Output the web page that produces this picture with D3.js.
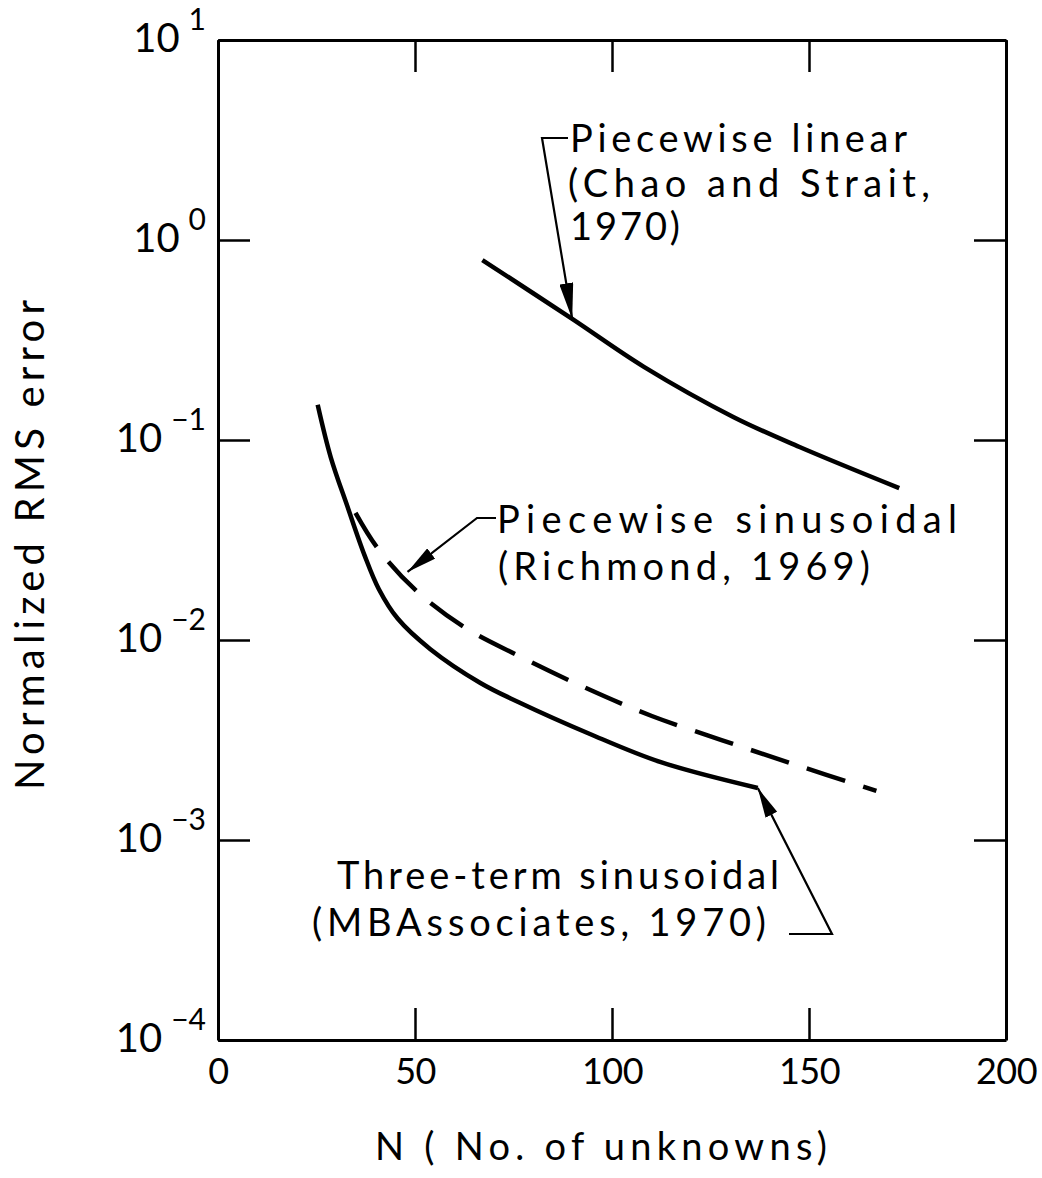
<!DOCTYPE html>
<html>
<head>
<meta charset="utf-8">
<script src="https://cdn.jsdelivr.net/npm/d3@7"></script>
<style>
  body { margin: 0; background: #fff; }
  svg { display: block; font-family: Lato, "Open Sans", sans-serif; }
  .axis path, .axis line { stroke: #000; }
  .axis text { fill: #000; }
</style>
</head>
<body>
<div class="chart"></div>
<script>
// tick values
var xTicks = [0, 50, 100, 150, 200];
var yTicks = [1e1, 1e0, 1e-1, 1e-2, 1e-3, 1e-4];
var yExps = ["1", "0", "\u22121", "\u22122", "\u22123", "\u22124"];

// Piecewise linear (Chao and Strait, 1970)
var linearN = [67.1, 89.9, 108.1, 130.9, 147.6, 172.9];
var linearErr = [0.794, 0.403, 0.232, 0.130, 0.0923, 0.0575];

// Piecewise sinusoidal (Richmond, 1969) - dashed
var sinusoidalN = [34.9, 40.5, 50.1, 62.5, 75.9, 93.4, 110.1, 127.8, 145.1, 167.1];
var sinusoidalErr = [0.0432, 0.0288, 0.0178, 0.0116, 0.00841, 0.00575, 0.00417, 0.00316, 0.00243, 0.00176];

// Three-term sinusoidal (MBAssociates, 1970)
var threeTermN = [25.3, 28.6, 32.9, 37.2, 40.8, 45.6, 53.9, 66.6, 76.2, 94.4, 112.4, 137.0];
var threeTermErr = [0.150, 0.0822, 0.0462, 0.0265, 0.0180, 0.0128, 0.00900, 0.00610, 0.00490, 0.00339, 0.00245, 0.00182];

var svgWidth = 1042;
var svgHeight = 1178;

var margin = { top: 40, right: 36, bottom: 138, left: 218 };
var width = svgWidth - margin.left - margin.right;
var height = svgHeight - margin.top - margin.bottom;

var svg = d3.select(".chart")
  .append("svg")
  .attr("width", svgWidth)
  .attr("height", svgHeight);

var chartGroup = svg.append("g")
  .attr("transform", `translate(${margin.left}, ${margin.top})`);

// scales
var xScale = d3.scaleLinear().domain([0, 200]).range([0, width]);
var yScale = d3.scaleLog().domain([1e-4, 1e1]).range([height, 0]);

var tickLen = 32;

// bottom axis
var bottomAxis = chartGroup.append("g")
  .attr("class", "axis")
  .attr("transform", `translate(0, ${height})`)
  .call(d3.axisBottom(xScale).tickValues(xTicks).tickSizeInner(-tickLen).tickSizeOuter(0).tickPadding(18));
bottomAxis.selectAll("text")
  .attr("font-size", 36)
  .attr("letter-spacing", -0.5)
  .attr("font-family", "Lato");
bottomAxis.select(".domain").attr("stroke-width", 3);
bottomAxis.selectAll(".tick line").attr("stroke-width", 2.5);

// top axis
var topAxis = chartGroup.append("g")
  .attr("class", "axis")
  .call(d3.axisTop(xScale).tickValues(xTicks).tickSizeInner(-tickLen).tickSizeOuter(0).tickFormat(""));
topAxis.select(".domain").attr("stroke-width", 3);
topAxis.selectAll(".tick line").attr("stroke-width", 2.5);

// left axis
var leftAxis = chartGroup.append("g")
  .attr("class", "axis")
  .call(d3.axisLeft(yScale).tickValues(yTicks).tickSizeInner(-tickLen).tickSizeOuter(0).tickFormat(""));
leftAxis.select(".domain").attr("stroke-width", 3);
leftAxis.selectAll(".tick line").attr("stroke-width", 2.5);

// right axis
var rightAxis = chartGroup.append("g")
  .attr("class", "axis")
  .attr("transform", `translate(${width}, 0)`)
  .call(d3.axisRight(yScale).tickValues(yTicks).tickSizeInner(-tickLen).tickSizeOuter(0).tickFormat(""));
rightAxis.select(".domain").attr("stroke-width", 3);
rightAxis.selectAll(".tick line").attr("stroke-width", 2.5);

// y tick labels as 10 with superscript exponent
var yLabels = chartGroup.append("g").selectAll("text")
  .data(yTicks)
  .enter()
  .append("text")
  .attr("x", -12)
  .attr("y", d => yScale(d) + 12)
  .attr("text-anchor", "end")
  .attr("font-size", 40);
yLabels.append("tspan").text("10");
yLabels.append("tspan")
  .attr("dx", 9)
  .attr("dy", -22)
  .attr("font-size", 30)
  .text((d, i) => yExps[i]);

// axis titles
svg.append("text")
  .attr("transform", "translate(44, 545) rotate(-90)")
  .attr("text-anchor", "middle")
  .attr("font-size", 40)
  .attr("textLength", 490)
  .attr("lengthAdjust", "spacing")
  .text("Normalized RMS error");

svg.append("text")
  .attr("x", 375)
  .attr("y", 1160)
  .attr("font-size", 38)
  .attr("textLength", 452)
  .attr("lengthAdjust", "spacing")
  .text("N ( No. of unknowns)");

// line generator
var line = d3.line()
  .x(d => xScale(d[0]))
  .y(d => yScale(d[1]))
  .curve(d3.curveCatmullRom.alpha(0.5));

chartGroup.append("path")
  .datum(d3.zip(linearN, linearErr))
  .attr("d", line)
  .attr("fill", "none")
  .attr("stroke", "black")
  .attr("stroke-width", 4.5);

chartGroup.append("path")
  .datum(d3.zip(threeTermN, threeTermErr))
  .attr("d", line)
  .attr("fill", "none")
  .attr("stroke", "black")
  .attr("stroke-width", 4.5);

chartGroup.append("path")
  .datum(d3.zip(sinusoidalN, sinusoidalErr))
  .attr("d", line)
  .attr("fill", "none")
  .attr("stroke", "black")
  .attr("stroke-width", 4.5)
  .attr("stroke-dasharray", "40,19");

// arrowheads
var defs = svg.append("defs");
defs.append("marker")
  .attr("id", "arrowBig")
  .attr("markerUnits", "userSpaceOnUse")
  .attr("viewBox", "0 0 36 14")
  .attr("refX", 36).attr("refY", 7)
  .attr("markerWidth", 36).attr("markerHeight", 14)
  .attr("orient", "auto")
  .append("path").attr("d", "M0,0 L36,7 L0,14 Z").attr("fill", "black");
defs.append("marker")
  .attr("id", "arrowSmall")
  .attr("markerUnits", "userSpaceOnUse")
  .attr("viewBox", "0 0 30 13")
  .attr("refX", 30).attr("refY", 6.5)
  .attr("markerWidth", 30).attr("markerHeight", 13)
  .attr("orient", "auto")
  .append("path").attr("d", "M0,0 L30,6.5 L0,13 Z").attr("fill", "black");

// annotations: text lines and leader lines (page pixels), arrow tips on curves
var notes = [
  {
    lines: [["Piecewise linear", 570, 152, 337], ["(Chao and Strait,", 568, 197, 362], ["1970)", 570, 240, 110]],
    leader: [[568, 138], [542, 138]],
    tip: [89.9, 0.403],
    marker: "arrowBig"
  },
  {
    lines: [["Piecewise sinusoidal", 497, 533, 460], ["(Richmond, 1969)", 498, 580, 372]],
    leader: [[496, 518], [477, 518]],
    tip: [48.1, 0.0219],
    marker: "arrowSmall"
  },
  {
    lines: [["Three-term sinusoidal", 337, 889, 442], ["(MBAssociates, 1970)", 312, 936, 454]],
    leader: [[789, 934], [832, 934]],
    tip: [137.0, 0.00182],
    marker: "arrowSmall"
  }
];

notes.forEach(function(n) {
  n.lines.forEach(function(l) {
    svg.append("text")
      .attr("x", l[1])
      .attr("y", l[2])
      .attr("font-size", 38)
      .attr("textLength", l[3])
      .attr("lengthAdjust", "spacing")
      .text(l[0]);
  });
  var pts = n.leader.concat([[margin.left + xScale(n.tip[0]), margin.top + yScale(n.tip[1])]]);
  svg.append("path")
    .attr("d", d3.line()(pts))
    .attr("fill", "none")
    .attr("stroke", "black")
    .attr("stroke-width", 2.2)
    .attr("marker-end", `url(#${n.marker})`);
});
</script>
</body>
</html>
